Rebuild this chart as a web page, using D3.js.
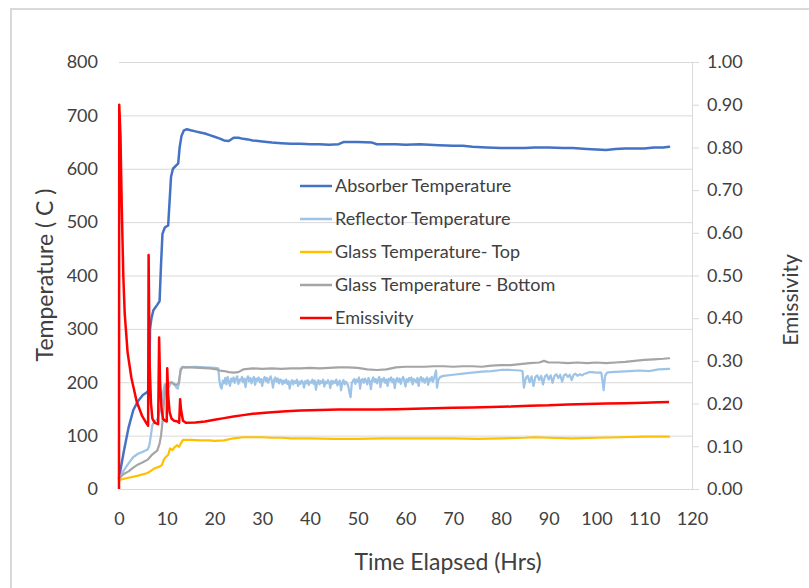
<!DOCTYPE html>
<html><head><meta charset="utf-8">
<script src="https://cdn.jsdelivr.net/npm/d3@7"></script>
<style>
body{margin:0;background:#fff}
svg{display:block}
text{font-family:Lato,'Open Sans',sans-serif;fill:#404040}
</style>
</head><body>
<svg id="chart" width="809" height="588"></svg>
<script>
// ---------- DATA ----------
const xTicks = [0,10,20,30,40,50,60,70,80,90,100,110,120];
const tempTicks = [0,100,200,300,400,500,600,700,800];
const emisTicks = [0,0.1,0.2,0.3,0.4,0.5,0.6,0.7,0.8,0.9,1.0];
const seriesNames = ["Absorber Temperature","Reflector Temperature","Glass Temperature- Top","Glass Temperature - Bottom","Emissivity"];
const seriesColors = ["#4472C4","#9DC3E6","#FFC000","#A5A5A5","#FF0000"];

// [hours, °C]
const absorber = [[0,20],[1,70],[2,115],[3,148],[4,165],[5,176],[6,182],[6.3,190],[6.5,300],[6.8,320],[7.2,335],[8.0,345],[8.5,352],[8.8,420],[9.1,478],[9.6,490],[10.3,494],[10.6,540],[10.9,585],[11.3,600],[12.4,610],[12.7,640],[13.1,662],[13.6,672],[14.2,674],[15,672],[16,670],[17,668],[18,666],[19,663],[20,660],[21,657],[22,653],[23,652],[24,658],[25,658],[26,656],[27,655],[28,653],[30,651],[32,649],[34,648],[36,647],[38,647],[40,646],[42,646],[44,645],[46,646],[47,650],[50,650],[53,649],[54,646],[56,646],[58,646],[60,645],[63,646],[65,645],[67,644],[70,643],[72,643],[74,641],[77,640],[80,639],[83,639],[85,639],[87,640],[90,640],[93,639],[95,639],[98,637],[100,636],[102,635],[104,637],[106,638],[108,638],[110,638],[112,640],[114,640],[115.2,641]];

const reflector = [[0,20],[1,35],[2,48],[3,60],[4,66],[5,70],[6,74],[6.3,80],[6.5,90],[7.0,120],[7.3,125],[8.0,130],[8.4,140],[8.7,150],[9.0,165],[9.3,185],[9.6,196],[10.0,195],[10.5,192],[11.0,200],[11.5,198],[12.0,190],[12.3,188],[12.6,200],[12.9,225],[13.3,229],[14,228],[16,229],[18,228],[20,227],[20.8,226],
[21,205],[21.25,192],[21.5,188],[21.75,203],[22,198],[22.25,208],[22.5,196],[22.75,210],[23,201],[23.25,193],[23.5,207],[23.75,202],[24,209],[24.25,199],[24.5,206],[24.75,211],
[25,197],[25.25,205],[25.5,203],[25.75,210],[26,200],[26.25,207],[26.5,191],[26.75,206],[27,211],[27.25,202],[27.5,208],[27.75,198],[28,206],[28.25,210],[28.5,195],[28.75,207],
[29,203],[29.25,209],[29.5,200],[29.75,206],[30,193],[30.25,205],[30.5,210],[30.75,202],[31,208],[31.25,199],[31.5,206],[31.75,211],[32,203],[32.25,190],[32.5,205],[32.75,209],
[33,201],[33.25,207],[33.5,198],[33.75,205],[34,204],[34.25,196],[34.5,203],[34.75,199],[35,205],[35.25,197],[35.5,202],[35.75,188],[36,200],[36.25,204],[36.5,196],[36.75,202],
[37,199],[37.25,205],[37.5,193],[37.75,201],[38,197],[38.25,203],[38.5,200],[38.75,190],[39,202],[39.25,198],[39.5,204],[39.75,195],[40,201],[40.25,199],[40.5,205],[40.75,197],
[41,203],[41.25,186],[41.5,200],[41.75,204],[42,196],[42.25,202],[42.5,199],[42.75,205],[43,192],[43.25,201],[43.5,198],[43.75,204],[44,200],[44.25,189],[44.5,203],[44.75,197],
[45,202],[45.25,199],[45.5,205],[45.75,194],[46,200],[46.25,203],[46.5,185],[46.75,199],[47,204],[47.25,196],[47.5,201],[47.75,198],[48,193],[48.25,181],[48.5,172],[48.75,198],
[49,203],[49.25,206],[49.5,197],[49.75,205],[50,201],[50.25,209],[50.5,188],[50.75,204],[51,206],[51.25,199],[51.5,207],[51.75,203],[52,196],[52.25,208],[52.5,202],[52.75,187],
[53,204],[53.25,209],[53.5,201],[53.75,206],[54,198],[54.25,205],[54.5,210],[54.75,191],[55,206],[55.25,202],[55.5,208],[55.75,199],[56,205],[56.25,193],[56.5,207],[56.75,203],
[57,209],[57.25,200],[57.5,206],[57.75,189],[58,204],[58.25,208],[58.5,201],[58.75,207],[59,197],[59.25,205],[59.5,210],[59.75,203],[60,192],[60.25,206],[60.5,201],[60.75,208],
[61,203],[61.25,209],[61.5,196],[61.75,206],[62,204],[62.25,200],[62.5,208],[62.75,193],[63,206],[63.25,210],[63.5,202],[63.75,207],[64,199],[64.25,205],[64.5,209],[64.75,195],
[65,207],[65.25,203],[65.5,210],[65.75,201],[66,208],[66.4,222],[66.6,190],[66.9,205],[67.3,210],
[68,212],[70,214],[72,216],[74,218],[76,220],[78,221],[80,223],[82,223],[84,222],[84.5,221],
[84.8,190],[85.2,208],[85.6,212],[86.0,200],[86.4,211],[86.8,193],[87.2,210],[87.6,213],[88.0,204],[88.4,212],[88.8,196],[89.2,211],[89.6,214],[90.0,205],[90.4,213],[90.8,199],[91.2,212],[91.6,215],[92.0,208],[92.4,214],[92.8,201],[93.2,213],[93.6,215],[94.0,210],[94.4,214],[94.8,204],[95.2,214],[95.6,216],[96.0,212],[96.5,215],[97.0,213],[97.5,216],[98.0,217],[98.5,219],[99,219],[100,218],[101,218],[101.3,200],[101.5,185],[101.8,212],[102.2,218],[103,219],[105,220],[107,221],[109,222],[111,221],[113,224],[115.2,225]];

const glassTop = [[0,17],[2,21],[4,25],[6,30],[6.5,33],[7.5,39],[8.5,42],[9,45],[9.4,55],[9.8,60],[10.3,64],[10.7,76],[11.2,73],[11.6,78],[12.2,82],[12.6,79],[13.0,86],[13.4,92],[15,92],[17,91],[19,91],[20,90],[22,91],[24,95],[26,97],[28,97],[30,97],[32,96],[34,96],[36,95],[40,95],[45,94],[50,94],[55,95],[60,95],[65,95],[70,95],[75,94],[80,95],[85,96],[87,97],[90,96],[95,95],[100,96],[105,97],[110,98],[115.2,98]];

const glassBottom = [[0,20],[1,28],[2,33],[3,40],[4,46],[5,50],[6,55],[6.5,60],[7,65],[8,72],[8.5,85],[8.8,100],[9.1,125],[9.4,160],[9.8,196],[10.3,198],[11,200],[11.5,196],[12,195],[12.5,198],[12.9,222],[13.3,228],[15,228],[17,227],[19,226],[20.5,224],[21,222],[22,221],[23,219],[24,218],[25,219],[26,224],[28,226],[30,225],[32,226],[34,225],[36,226],[38,226],[40,227],[42,226],[44,227],[46,228],[48,228],[50,227],[52,224],[54,223],[56,224],[58,228],[60,229],[62,229],[64,229],[66,230],[68,230],[70,229],[72,230],[74,230],[76,229],[78,231],[80,232],[82,232],[84,234],[86,236],[88,237],[89,240],[90,237],[92,237],[94,236],[96,237],[98,236],[100,237],[102,236],[104,237],[106,238],[108,240],[110,242],[112,243],[114,244],[115.2,245]];

// [hours, emissivity]
const emissivity = [[0,0],[0.05,0.90],[0.3,0.83],[0.6,0.65],[0.9,0.50],[1.2,0.41],[1.8,0.32],[2.6,0.26],[3.7,0.205],[4.8,0.172],[5.8,0.153],[6.1,0.148],[6.2,0.548],[6.4,0.30],[6.7,0.20],[7.0,0.165],[7.5,0.155],[8.2,0.152],[8.4,0.355],[8.6,0.25],[8.9,0.19],[9.2,0.165],[9.6,0.16],[10.0,0.158],[10.1,0.283],[10.3,0.22],[10.6,0.18],[11.0,0.165],[11.5,0.16],[12.3,0.158],[12.6,0.155],[12.8,0.21],[13.0,0.185],[13.4,0.16],[14,0.155],[16,0.156],[18,0.158],[20,0.162],[22,0.166],[24,0.170],[26,0.173],[28,0.176],[30,0.178],[32,0.180],[35,0.182],[38,0.184],[42,0.185],[46,0.186],[50,0.186],[54,0.186],[58,0.187],[62,0.188],[66,0.189],[70,0.190],[74,0.191],[78,0.192],[82,0.193],[86,0.195],[90,0.196],[94,0.198],[98,0.199],[102,0.200],[106,0.201],[110,0.202],[113,0.203],[115.2,0.204]];

// ---------- DRAW ----------
const svg = d3.select("#chart");
const X0 = 119, X1 = 692, Y0 = 489, Y1 = 62;
const FONT = "Lato,'Open Sans',sans-serif";
const x = d3.scaleLinear().domain([0,120]).range([X0,X1]);
const yT = d3.scaleLinear().domain([0,800]).range([Y0,Y1]);
const yE = d3.scaleLinear().domain([0,1]).range([Y0,Y1]);

// outer frame
svg.append("rect").attr("x",11).attr("y",9).attr("width",900).attr("height",700)
  .attr("fill","none").attr("stroke","#d9d9d9").attr("stroke-width",2);

// gridlines
const grid = svg.append("g").attr("transform",`translate(${X0},0)`)
  .call(d3.axisLeft(yT).tickValues(tempTicks.filter(d=>d>0)).tickSize(-(X1-X0)).tickFormat(""));
grid.select(".domain").remove();
grid.selectAll("line").attr("stroke","#d9d9d9").attr("stroke-width",1);

// bottom axis
const gx = svg.append("g").attr("transform",`translate(0,${Y0})`)
  .call(d3.axisBottom(x).tickValues(xTicks).tickSize(0).tickSizeOuter(0).tickPadding(23));
gx.select(".domain").attr("stroke","#d9d9d9");
gx.selectAll("text").attr("font-size",18).attr("fill","#404040").attr("font-family",FONT);

// left axis (labels only)
const gy = svg.append("g").attr("transform",`translate(${X0},0)`)
  .call(d3.axisLeft(yT).tickValues(tempTicks).tickSize(0).tickPadding(21));
gy.select(".domain").remove();
gy.selectAll("text").attr("font-size",18).attr("fill","#404040").attr("font-family",FONT);

// right axis
const gr = svg.append("g").attr("transform",`translate(${X1},0)`)
  .call(d3.axisRight(yE).tickValues(emisTicks).tickFormat(d3.format(".2f")).tickSize(7).tickSizeOuter(0).tickPadding(8));
gr.select(".domain").attr("stroke","#d9d9d9");
gr.selectAll("line").attr("stroke","#d9d9d9");
gr.selectAll("text").attr("font-size",18).attr("fill","#404040").attr("font-family",FONT);

// lines
const lineT = d3.line().x(d=>x(d[0])).y(d=>yT(d[1]));
const lineE = d3.line().x(d=>x(d[0])).y(d=>yE(d[1]));
const tempSeries = [absorber, reflector, glassTop, glassBottom];
const widths = [2.5,2.2,2.2,2.2,2.5];
tempSeries.forEach((s,i)=>{
  svg.append("path").datum(s).attr("d",lineT).attr("fill","none")
    .attr("stroke",seriesColors[i]).attr("stroke-width",widths[i])
    .attr("stroke-linejoin","round").attr("stroke-linecap","round");
});
svg.append("path").datum(emissivity).attr("d",lineE).attr("fill","none")
  .attr("stroke",seriesColors[4]).attr("stroke-width",widths[4])
  .attr("stroke-linejoin","round").attr("stroke-linecap","butt");

// legend
const lg = svg.append("g");
seriesNames.forEach((n,i)=>{
  const yy = 186 + i*33;
  lg.append("line").attr("x1",300).attr("x2",332).attr("y1",yy).attr("y2",yy)
    .attr("stroke",seriesColors[i]).attr("stroke-width",2.5);
  lg.append("text").attr("x",335).attr("y",yy).attr("dy","0.35em")
    .attr("font-size",18).text(n);
});

// axis titles
svg.append("text").attr("transform","translate(53,275) rotate(-90)")
  .attr("text-anchor","middle").attr("font-size",23).text("Temperature ( C )");
svg.append("text").attr("transform","translate(798,300) rotate(-90)")
  .attr("text-anchor","middle").attr("font-size",21).text("Emissivity");
svg.append("text").attr("x",448).attr("y",570)
  .attr("text-anchor","middle").attr("font-size",23).text("Time Elapsed (Hrs)");
</script>
</body></html>
